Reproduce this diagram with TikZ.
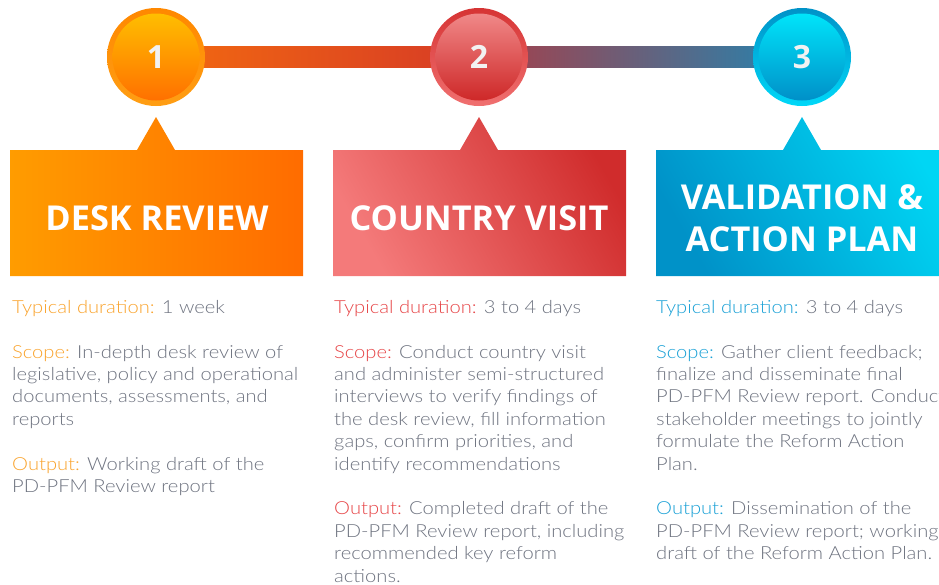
\documentclass[tikz,border=0pt]{standalone}
\usepackage{fontspec}
\usetikzlibrary{calc}
\IfFontExistsTF{Lato Light}{\setmainfont{Lato Light}[FakeStretch=1.12]}{\setmainfont{Lato}[FakeStretch=1.1]}
\newfontfamily\titlefont{Open Sans}
\definecolor{bodygray}{RGB}{110,115,128}
\definecolor{lblorg}{RGB}{249,163,45}
\definecolor{lblred}{RGB}{230,70,72}
\definecolor{lblblue}{RGB}{27,161,214}
\definecolor{barA}{RGB}{243,106,16}
\definecolor{barB}{RGB}{214,58,38}
\definecolor{barC}{RGB}{168,62,72}
\definecolor{barD}{RGB}{106,90,114}
\definecolor{barE}{RGB}{36,132,176}
\begin{document}
\begin{tikzpicture}[x=1pt,y=-1pt,
  ring/.style={circle, minimum size=98pt, inner sep=0pt, draw=none},
  disc/.style={circle, minimum size=87pt, inner sep=0pt, draw=none, text={rgb,255:red,242;green,242;blue,242},
    font=\titlefont\bfseries\fontsize{32}{36}\selectfont},
  title/.style={align=center, text=white, inner sep=0pt, font=\titlefont\bfseries\fontsize{34.3}{40}\selectfont},
  body/.style={anchor=base west, align=left, inner sep=0pt, text=bodygray, font=\fontsize{18}{22.4}\selectfont}]
\useasboundingbox (0,0) rectangle (939,584);

% positions
\coordinate (p1) at (156,57);
\coordinate (p2) at (479,57);
\coordinate (p3) at (802,57);

% bar
\shade[left color=barA, right color=barB] ($(p1)+(0,-10.5)$) rectangle ($(p2)+(0,10.5)$);
\shade[left color=barC, middle color=barD, right color=barE] ($(p2)+(0,-10.5)$) rectangle ($(p3)+(0,10.5)$);

% circles
\node[ring, top color={rgb,255:red,255;green,136;blue,0}, bottom color={rgb,255:red,255;green,158;blue,20}] (c1) at (p1) {};
\node[disc, top color={rgb,255:red,255;green,190;blue,0}, bottom color={rgb,255:red,255;green,112;blue,0}] (n1) at (c1.center) {1};
\node[ring, top color={rgb,255:red,214;green,52;blue,52}, bottom color={rgb,255:red,240;green,112;blue,112}] (c2) at (p2) {};
\node[disc, top color={rgb,255:red,240;green,136;blue,136}, bottom color={rgb,255:red,206;green,40;blue,40}] (n2) at (c2.center) {2};
\node[ring, top color={rgb,255:red,0;green,146;blue,200}, bottom color={rgb,255:red,0;green,216;blue,248}] (c3) at (p3) {};
\node[disc, top color={rgb,255:red,0;green,228;blue,250}, bottom color={rgb,255:red,0;green,144;blue,200}] (n3) at (c3.center) {3};

% boxes with pointers
\shade[left color={rgb,255:red,255;green,156;blue,0}, right color={rgb,255:red,255;green,108;blue,0}]
  (10,150) -- (137,150) -- (156,117) -- (175,150) -- (303,150) -- (303,276) -- (10,276) -- cycle;
\shade[left color={rgb,255:red,244;green,122;blue,122}, right color={rgb,255:red,208;green,44;blue,44}, shading angle=120]
  (333,150) -- (460,150) -- (479,117) -- (498,150) -- (626,150) -- (626,276) -- (333,276) -- cycle;
\shade[left color={rgb,255:red,0;green,146;blue,200}, right color={rgb,255:red,0;green,214;blue,244}, shading angle=120]
  (656,150) -- (783,150) -- (802,117) -- (821,150) -- (949,150) -- (949,276) -- (656,276) -- cycle;

\node[title] (h1) at (157,218) {DESK REVIEW};
\node[title] (h2) at (479,218) {COUNTRY VISIT};
\node[title] (h3) at (802,218) {VALIDATION \&\\[2pt] ACTION PLAN};

% body texts (anchored at the baseline of the last line)
\node[body] (t1) at (12,492.4) {\textcolor{lblorg}{Typical duration:} 1 week\\[22.4pt]
\textcolor{lblorg}{Scope:} In-depth desk review of\\
legislative, policy and operational\\
documents, assessments, and\\
reports\\[22.4pt]
\textcolor{lblorg}{Output:} Working draft of the\\
PD-PFM Review report};

\node[body] (t2) at (334,582) {\textcolor{lblred}{Typical duration:} 3 to 4 days\\[22.4pt]
\textcolor{lblred}{Scope:} Conduct country visit\\
and administer semi-structured\\
interviews to verify findings of\\
the desk review, fill information\\
gaps, confirm priorities, and\\
identify recommendations\\[22.4pt]
\textcolor{lblred}{Output:} Completed draft of the\\
PD-PFM Review report, including\\
recommended key reform\\
actions.};

\node[body] (t3) at (656,559.6) {\textcolor{lblblue}{Typical duration:} 3 to 4 days\\[22.4pt]
\textcolor{lblblue}{Scope:} Gather client feedback;\\
finalize and disseminate final\\
PD-PFM Review report. Conduct\\
stakeholder meetings to jointly\\
formulate the Reform Action\\
Plan.\\[22.4pt]
\textcolor{lblblue}{Output:} Dissemination of the\\
PD-PFM Review report; working\\
draft of the Reform Action Plan.};
\end{tikzpicture}
\end{document}
